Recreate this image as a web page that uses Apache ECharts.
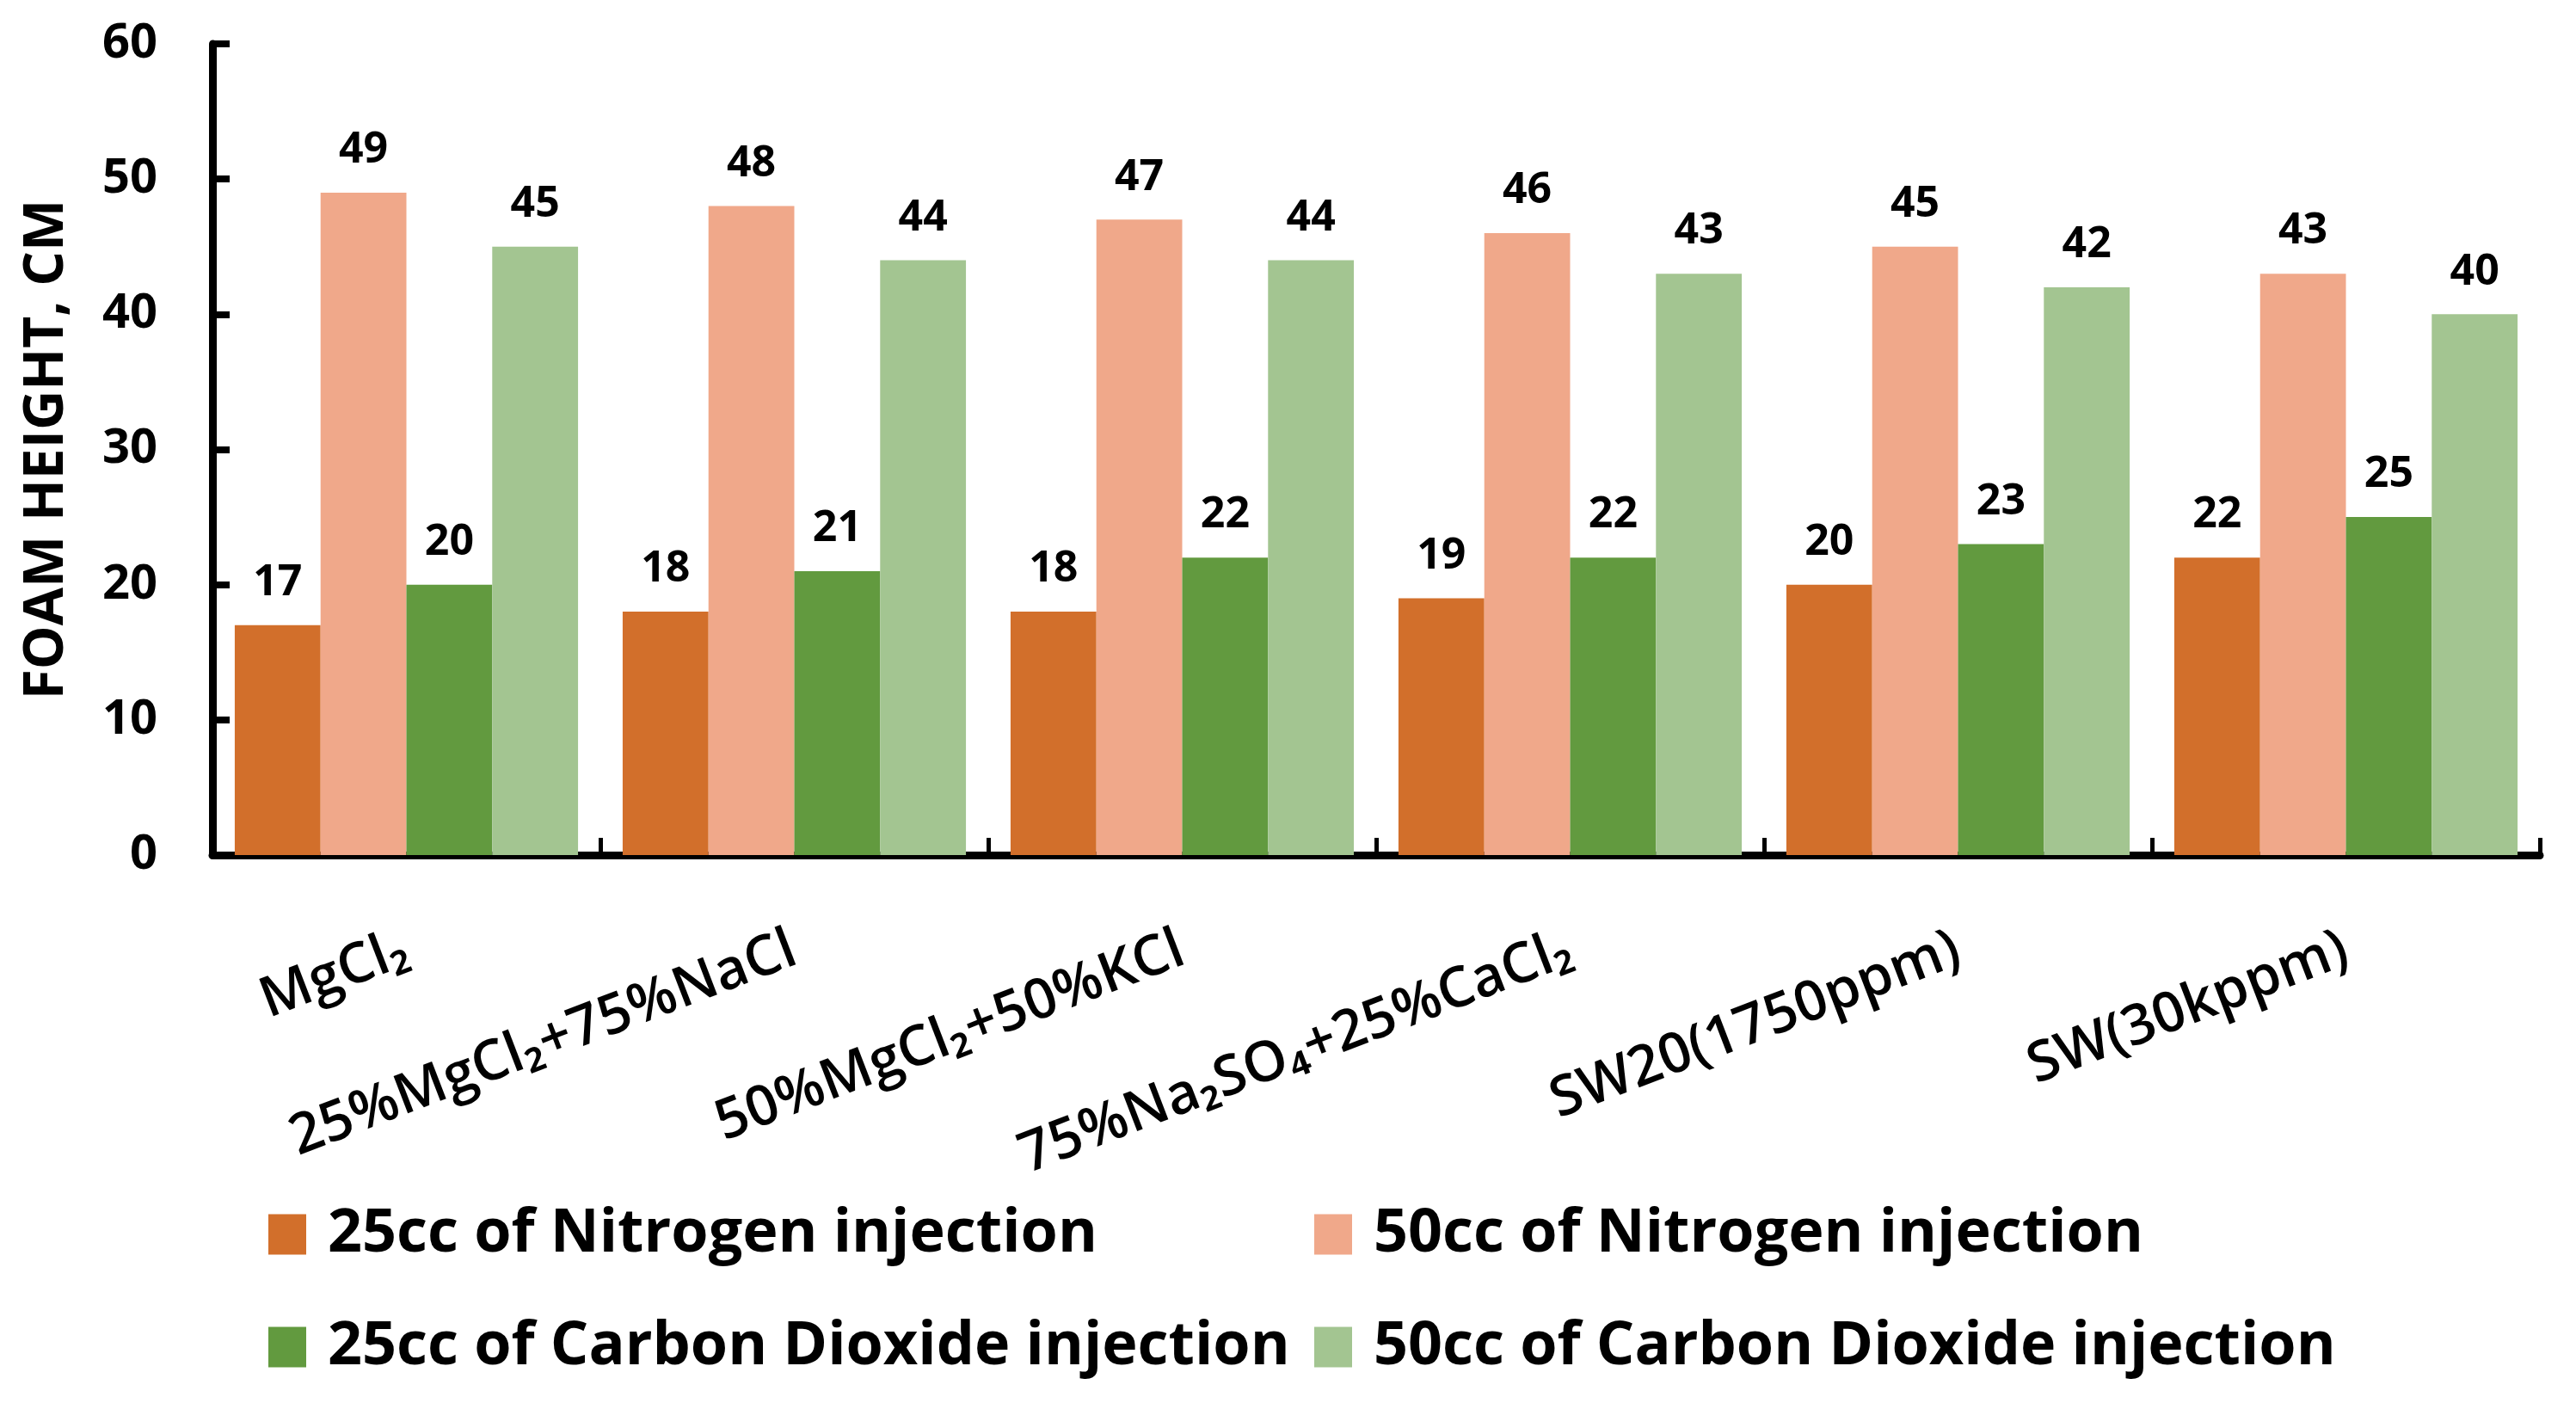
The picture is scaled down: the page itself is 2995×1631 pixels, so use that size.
<!DOCTYPE html>
<html>
<head>
<meta charset="utf-8">
<script src="https://cdn.jsdelivr.net/npm/echarts@6/dist/echarts.min.js"></script>
<style>
html,body{margin:0;padding:0;background:#fff;}
#c{width:2995px;height:1631px;}
</style>
</head>
<body>
<div id="c"></div>
<script>
const categories = ['MgCl₂', '25%MgCl₂+75%NaCl', '50%MgCl₂+50%KCl', '75%Na₂SO₄+25%CaCl₂', 'SW20(1750ppm)', 'SW(30kppm)'];
const seriesNames = ['25cc of Nitrogen injection', '50cc of Nitrogen injection', '25cc of Carbon Dioxide injection', '50cc of Carbon Dioxide injection'];
const n2_25 = [17, 18, 18, 19, 20, 22];
const n2_50 = [49, 48, 47, 46, 45, 43];
const co2_25 = [20, 21, 22, 22, 23, 25];
const co2_50 = [45, 44, 44, 43, 42, 40];
const yTicks = [0, 10, 20, 30, 40, 50, 60];
const colors = ['#D26F2B', '#F0A88A', '#629A3F', '#A3C591'];
const values = [n2_25, n2_50, co2_25, co2_50];

const FONT = 'Open Sans';
const chart = echarts.init(document.getElementById('c'), null, {renderer: 'canvas'});

const series = seriesNames.map((name, i) => ({
  name: name,
  type: 'bar',
  data: values[i],
  itemStyle: {color: colors[i]},
  barGap: '0%',
  barCategoryGap: '11.5%',
  label: {
    show: true,
    position: 'top',
    distance: 24,
    color: '#000',
    fontFamily: FONT,
    fontWeight: 'bold',
    fontSize: 50
  }
}));

const legendPos = [
  {left: 312, top: 1400},
  {left: 1528, top: 1400},
  {left: 312, top: 1531},
  {left: 1528, top: 1531}
];
const legends = seriesNames.map((name, i) => ({
  data: [name],
  left: legendPos[i].left,
  top: legendPos[i].top,
  padding: 0,
  itemWidth: 44,
  itemHeight: 47,
  icon: 'rect',
  selectedMode: false,
  textStyle: {
    color: '#000',
    fontFamily: FONT,
    fontWeight: 'bold',
    fontSize: 70,
    lineHeight: 66,
    padding: [0, 0, 0, 20]
  }
}));

chart.setOption({
  backgroundColor: '#fff',
  animation: false,
  color: colors,
  legend: legends,
  grid: {left: 247, right: 42, top: 51, bottom: 637},
  xAxis: {
    type: 'category',
    data: categories,
    axisLine: {lineStyle: {color: '#000', width: 9}},
    axisTick: {show: true, inside: true, length: 20, interval: 0, lineStyle: {color: '#000', width: 5}},
    axisLabel: {
      interval: 0,
      rotate: 21,
      margin: 108,
      color: '#000',
      fontFamily: FONT,
      fontWeight: 600,
      fontSize: 65
    }
  },
  yAxis: {
    type: 'value',
    min: yTicks[0],
    max: yTicks[yTicks.length - 1],
    interval: 10,
    name: 'FOAM HEIGHT, CM',
    nameLocation: 'middle',
    nameRotate: 90,
    nameGap: 160,
    nameTextStyle: {color: '#000', fontFamily: FONT, fontWeight: 'bold', fontSize: 64},
    axisLine: {show: true, lineStyle: {color: '#000', width: 9}},
    axisTick: {show: true, inside: true, length: 20, lineStyle: {color: '#000', width: 8}},
    splitLine: {show: false},
    axisLabel: {
      margin: 64,
      color: '#000',
      fontFamily: FONT,
      fontWeight: 'bold',
      fontSize: 56
    }
  },
  series: series
});
</script>
</body>
</html>
